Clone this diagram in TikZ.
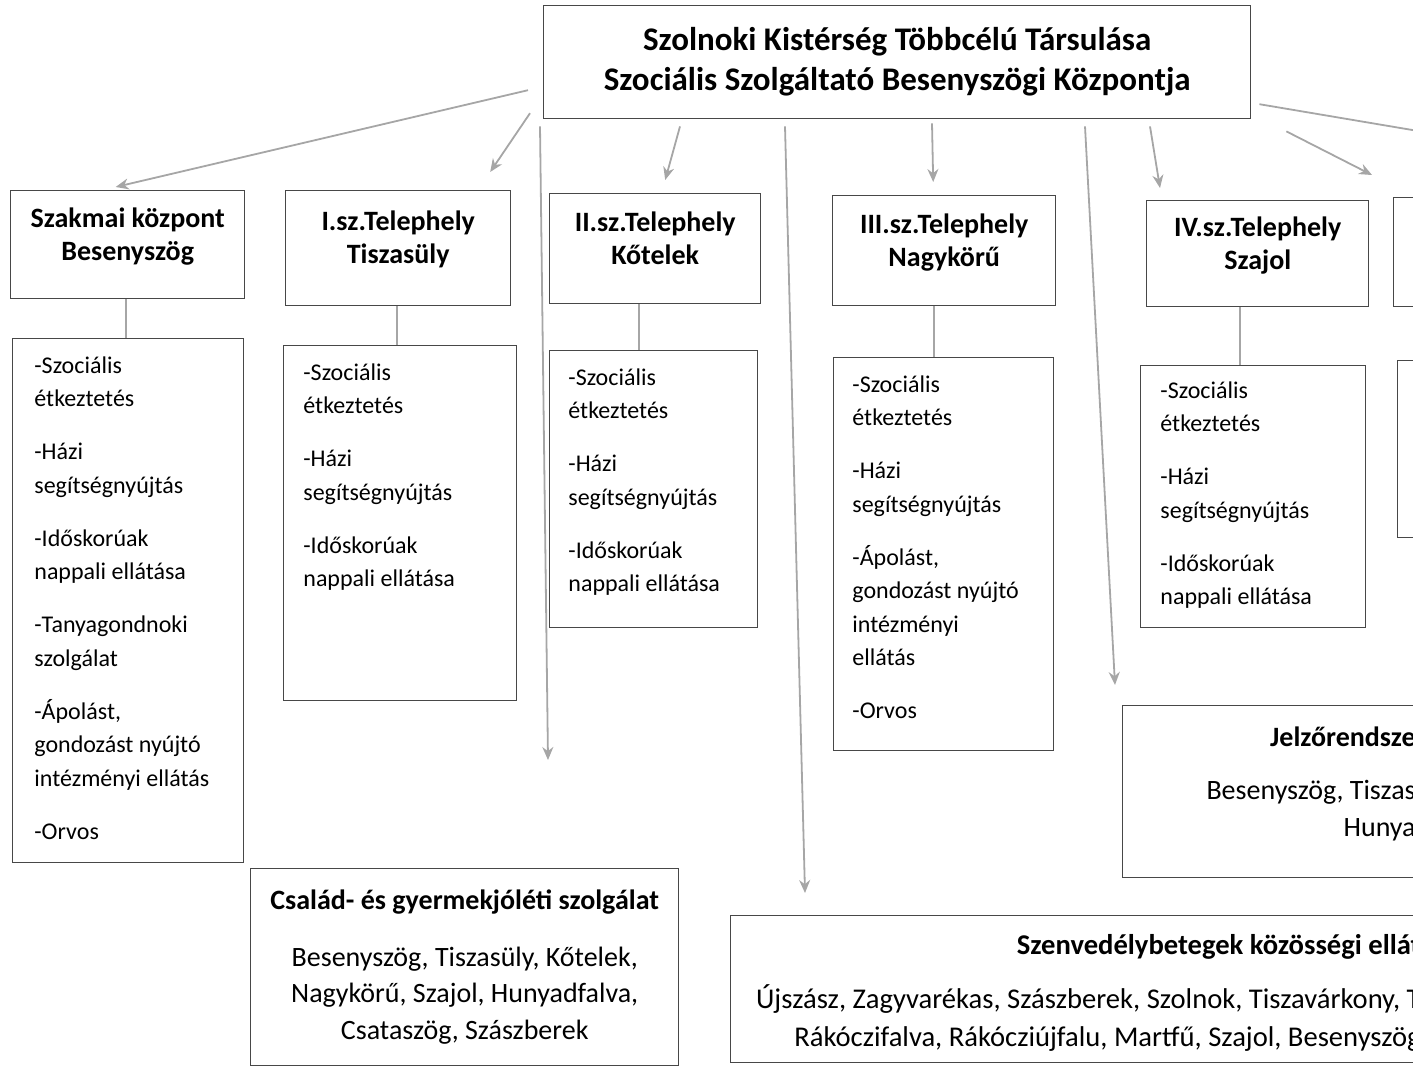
\documentclass[tikz,border=0pt]{standalone}
\usepackage{fontspec}
\setmainfont{Carlito}
\usetikzlibrary{arrows.meta}

\newcommand\nextitem{\\[9.75pt]}
\newcommand\hdrpad{\rule[-11pt]{0pt}{0pt}}

\tikzset{
  box/.style={draw=black!72, line width=0.7pt, inner sep=0pt},
  hdr/.style={box, anchor=north west, align=center, font=\fontsize{14}{16.5}\selectfont\bfseries},
  listbox/.style={box, anchor=north west},
  lst/.style={anchor=north west, align=left, inner sep=0pt, font=\fontsize{12}{16.75}\selectfont},
  cut/.style={anchor=north east, align=right, inner sep=0pt, font=\fontsize{14}{18.5}\selectfont},
  link/.style={black!35, line width=0.9pt},
  arr/.style={link, -{Stealth[length=6.5pt,width=5.5pt]}},
}

\begin{document}
\begin{tikzpicture}[x=0.5pt,y=-0.5pt]
  \useasboundingbox (0,0) rectangle (1413,1069);
  \clip (0,0) rectangle (1413,1069);

  % fenntarto
  \node[hdr, minimum width=353.5pt, minimum height=56.5pt, font=\fontsize{16.5}{20}\selectfont\bfseries] (title) at (543,5)
    {Szolnoki Kistérség Többcélú Társulása\\Szociális Szolgáltató Besenyszögi Központja};

  % telephelyek
  \node[hdr, minimum width=117pt, minimum height=54pt] (kozpont) at (10,190) {Szakmai központ\\Besenyszög\hdrpad};
  \node[hdr, minimum width=112.5pt, minimum height=57.5pt] (tel1) at (285,190) {I.sz.Telephely\\Tiszasüly\hdrpad};
  \node[hdr, minimum width=105.5pt, minimum height=55pt] (tel2) at (549,193) {II.sz.Telephely\\Kőtelek\hdrpad};
  \node[hdr, minimum width=111.5pt, minimum height=55pt] (tel3) at (832,195) {III.sz.Telephely\\Nagykörű\hdrpad};
  \node[hdr, minimum width=111pt, minimum height=53pt] (tel4) at (1146,200) {IV.sz.Telephely\\Szajol\hdrpad};
  \node[hdr, minimum width=30pt, minimum height=54.5pt] (tel5) at (1393,197) {};

  % ellatasok
  \node[listbox, minimum width=115.5pt, minimum height=262pt] (lista0) at (12,338) {};
  \node[listbox, minimum width=116.5pt, minimum height=177.5pt] (lista1) at (283,345) {};
  \node[listbox, minimum width=104pt, minimum height=138.5pt] (lista2) at (549,350) {};
  \node[listbox, minimum width=110pt, minimum height=196.5pt] (lista3) at (833,357) {};
  \node[listbox, minimum width=112.5pt, minimum height=131pt] (lista4) at (1140,365) {};
  \node[listbox, minimum width=30pt, minimum height=88.5pt] (lista5) at (1397,360) {};

  \node[lst] (szolg0) at ([shift={(22,18)}]lista0.north west)
    {-Szociális\\étkeztetés\nextitem -Házi\\segítségnyújtás\nextitem -Időskorúak\\nappali ellátása\nextitem
     -Tanyagondnoki\\szolgálat\nextitem -Ápolást,\\gondozást nyújtó\\intézményi ellátás\nextitem -Orvos};
  \node[lst] (szolg1) at ([shift={(20,18)}]lista1.north west)
    {-Szociális\\étkeztetés\nextitem -Házi\\segítségnyújtás\nextitem -Időskorúak\\nappali ellátása};
  \node[lst] (szolg2) at ([shift={(19,18)}]lista2.north west)
    {-Szociális\\étkeztetés\nextitem -Házi\\segítségnyújtás\nextitem -Időskorúak\\nappali ellátása};
  \node[lst] (szolg3) at ([shift={(19,18)}]lista3.north west)
    {-Szociális\\étkeztetés\nextitem -Házi\\segítségnyújtás\nextitem -Ápolást,\\gondozást nyújtó\\intézményi\\ellátás\nextitem -Orvos};
  \node[lst] (szolg4) at ([shift={(20,16)}]lista4.north west)
    {-Szociális\\étkeztetés\nextitem -Házi\\segítségnyújtás\nextitem -Időskorúak\\nappali ellátása};

  % kulon szolgaltatasok
  \node[box, anchor=north west, minimum width=214pt, minimum height=98.5pt, align=center,
        font=\fontsize{14}{18.25}\selectfont] (csalad) at (250,868)
    {{\bfseries Család- és gyermekjóléti szolgálat}\\[10pt]Besenyszög, Tiszasüly, Kőtelek,\\Nagykörű, Szajol, Hunyadfalva,\\Csataszög, Szászberek};
  \node[listbox, minimum width=200pt, minimum height=86pt] (jelzo) at (1122,705) {};
  \node[cut] (jelzotxt) at (1416,726) {{\bfseries Jelzőrendsze}\\[8pt]Besenyszög, Tiszas\\Hunya};
  \node[listbox, minimum width=400pt, minimum height=73.5pt] (szenv) at (730,915) {};
  \node[cut, font=\fontsize{14.3}{19}\selectfont] (szenvtxt) at (1421,934)
    {{\bfseries Szenvedélybetegek közösségi ellát}\\[8pt]Újszász, Zagyvarékas, Szászberek, Szolnok, Tiszavárkony, T\\Rákóczifalva, Rákócziújfalu, Martfű, Szajol, Besenyszög};

  \coordinate (vege3) at (548,760);
  \coordinate (vege10) at (1430,133);

  % kapcsolatok
  \path[arr]
    ([shift={(-15,28)}]title.west) edge ([shift={(-12,-3)}]kozpont.north)
    ([shift={(-13,51)}]title.west) edge ([shift={(92,-18)}]tel1.north)
    ([shift={(-3,7)}]title.south west) edge (vege3)
    ([shift={(137,7)}]title.south west) edge ([shift={(10,-13)}]tel2.north)
    ([shift={(242,7)}]title.south west) edge ([shift={(75,-22)}]szenv.north west)
    ([shift={(389,4)}]title.south west) edge ([shift={(-11,-13)}]tel3.north)
    ([shift={(542,7)}]title.south west) edge ([shift={(-7,-20)}]jelzo.north west)
    ([shift={(607,7)}]title.south west) edge ([shift={(14,-12)}]tel4.north west)
    ([shift={(35,12)}]title.south east) edge ([shift={(-21,-22)}]tel5.north west);
  \draw[link] ([shift={(8,42)}]title.east) -- (vege10);

  \path[link]
    ([xshift=-1pt]kozpont.south) edge ([xshift=-1pt]kozpont.south |- lista0.north)
    ([xshift=-0.75pt]tel1.south) edge ([xshift=-0.75pt]tel1.south |- lista1.north)
    ([xshift=-8pt]tel2.south) edge ([xshift=-8pt]tel2.south |- lista2.north)
    ([xshift=-5pt]tel3.south) edge ([xshift=-5pt]tel3.south |- lista3.north)
    ([xshift=-9pt]tel4.south) edge ([xshift=-9pt]tel4.south |- lista4.north);
\end{tikzpicture}
\end{document}
